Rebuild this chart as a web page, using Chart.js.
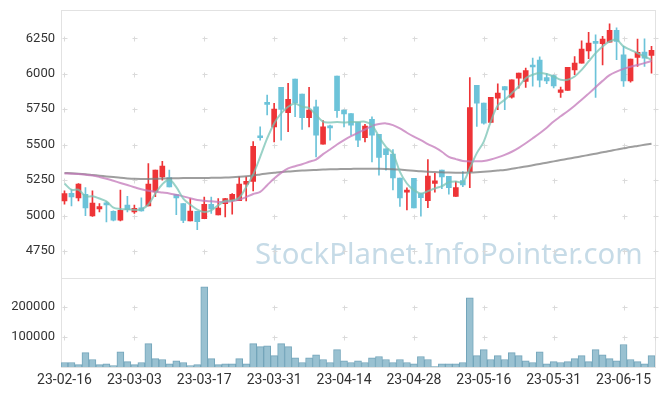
<!DOCTYPE html>
<html>
<head>
<meta charset="utf-8">
<script src="https://cdn.jsdelivr.net/npm/chart.js@4"></script>
<style>
  html, body { margin: 0; padding: 0; background: #fff; }
  canvas { display: block; }
</style>
</head>
<body>
<canvas id="chart" width="665" height="396"></canvas>
<script>
const dates = [
  "23-02-16", "23-02-17", "23-02-20", "23-02-21", "23-02-22", "23-02-23", "23-02-24", "23-02-27", "23-02-28", "23-03-02",
  "23-03-03", "23-03-06", "23-03-07", "23-03-08", "23-03-09", "23-03-10", "23-03-13", "23-03-14", "23-03-15", "23-03-16",
  "23-03-17", "23-03-20", "23-03-21", "23-03-22", "23-03-23", "23-03-24", "23-03-27", "23-03-28", "23-03-29", "23-03-30",
  "23-03-31", "23-04-03", "23-04-04", "23-04-05", "23-04-06", "23-04-07", "23-04-10", "23-04-11", "23-04-12", "23-04-13",
  "23-04-14", "23-04-17", "23-04-18", "23-04-19", "23-04-20", "23-04-21", "23-04-24", "23-04-25", "23-04-26", "23-04-27",
  "23-04-28", "23-05-02", "23-05-03", "23-05-04", "23-05-08", "23-05-09", "23-05-10", "23-05-11", "23-05-12", "23-05-15",
  "23-05-16", "23-05-17", "23-05-18", "23-05-19", "23-05-22", "23-05-23", "23-05-24", "23-05-25", "23-05-26", "23-05-30",
  "23-05-31", "23-06-01", "23-06-02", "23-06-05", "23-06-07", "23-06-08", "23-06-09", "23-06-12", "23-06-13", "23-06-14",
  "23-06-15", "23-06-16", "23-06-19", "23-06-20", "23-06-21"
];

const opens = [
  5103, 5157, 5124, 5150, 4997, 5047, 5089, 5030, 4967, 5073,
  5026, 5054, 5068, 5167, 5272, 5268, 5148, 5084, 4962, 5029,
  4978, 5079, 5004, 5084, 5106, 5105, 5221, 5240, 5556, 5790,
  5626, 5904, 5725, 5963, 5857, 5690, 5767, 5504, 5624, 5984,
  5744, 5720, 5657, 5549, 5678, 5572, 5470, 5433, 5264, 5165,
  5263, 5155, 5105, 5226, 5320, 5277, 5134, 5247, 5310, 5918,
  5793, 5656, 5828, 5910, 5835, 5969, 5946, 6056, 6096, 5974,
  5988, 5868, 5882, 6028, 6075, 6162, 6221, 6212, 6223, 6306,
  6134, 5950, 6115, 6153, 6129
];
const highs = [
  5174, 5183, 5225, 5197, 5174, 5084, 5096, 5033, 5179, 5136,
  5073, 5124, 5367, 5320, 5383, 5320, 5150, 5084, 5120, 5030,
  5131, 5130, 5120, 5122, 5155, 5273, 5273, 5522, 5626, 5850,
  5791, 5904, 5932, 5963, 5857, 5904, 5815, 5669, 5638, 5984,
  5744, 5720, 5657, 5643, 5697, 5572, 5470, 5466, 5264, 5195,
  5263, 5155, 5395, 5297, 5320, 5277, 5240, 5310, 5974, 5918,
  5793, 5833, 5929, 5910, 5958, 6005, 6040, 6110, 6120, 6002,
  5990, 5906, 6045, 6122, 6233, 6292, 6275, 6264, 6353, 6325,
  6193, 6103, 6245, 6247, 6193
];
const lows = [
  5080, 5068, 5103, 4999, 4994, 5026, 4955, 4962, 4962, 5026,
  5014, 5030, 5068, 5133, 5249, 5202, 5006, 4950, 4962, 4900,
  4978, 5014, 5004, 4990, 5009, 5105, 5103, 5174, 5532, 5709,
  5520, 5532, 5591, 5697, 5607, 5626, 5414, 5504, 5532, 5692,
  5626, 5567, 5485, 5520, 5379, 5285, 5320, 5180, 5065, 5040,
  5053, 4995, 5055, 5165, 5190, 5150, 5134, 5204, 5197, 5628,
  5645, 5656, 5746, 5746, 5828, 5899, 5903, 5912, 5908, 5931,
  5900, 5833, 5882, 5993, 6075, 6106, 5833, 6063, 6223, 6099,
  5910, 5941, 6052, 6052, 6005
];
const closes = [
  5155, 5131, 5221, 5054, 5087, 5063, 5075, 4967, 5037, 5042,
  5051, 5033, 5221, 5320, 5348, 5202, 5124, 4965, 5031, 4957,
  5079, 5046, 5052, 5120, 5150, 5221, 5242, 5489, 5549, 5784,
  5751, 5749, 5819, 5796, 5690, 5744, 5567, 5626, 5618, 5739,
  5716, 5638, 5532, 5631, 5567, 5410, 5430, 5265, 5125, 5179,
  5053, 5126, 5278, 5244, 5273, 5197, 5197, 5216, 5762, 5793,
  5651, 5833, 5863, 5887, 5958, 6005, 6023, 6048, 5955, 5950,
  5915, 5887, 6045, 6075, 6174, 6216, 6214, 6245, 6306, 6228,
  5950, 6103, 6151, 6111, 6165
];
const volumes = [
  15000, 15000, 8000, 48000, 25000, 8000, 11000, 5000, 51000, 18000,
  8000, 15000, 78000, 28000, 25000, 11000, 21000, 15000, 5000, 8000,
  268000, 28000, 8000, 11000, 11000, 28000, 11000, 78000, 68000, 71000,
  38000, 78000, 68000, 31000, 15000, 31000, 41000, 25000, 15000, 58000,
  21000, 15000, 21000, 15000, 31000, 35000, 25000, 15000, 25000, 15000,
  11000, 35000, 25000, 1500, 11000, 11000, 11000, 15000, 231000, 38000,
  58000, 25000, 38000, 25000, 48000, 38000, 21000, 15000, 51000, 11000,
  18000, 15000, 18000, 28000, 38000, 18000, 58000, 41000, 28000, 21000,
  75000, 25000, 18000, 11000, 38000
];
const maShort = [
  5226, 5182, 5182, 5136, 5136, 5120, 5100, 5056, 5046, 5044,
  5040, 5044, 5078, 5155, 5221, 5252, 5200, 5120, 5076, 5042,
  5025, 5037, 5072, 5103, 5106, 5125, 5202, 5290, 5414, 5544,
  5650, 5720, 5767, 5790, 5767, 5758, 5709, 5662, 5657, 5659,
  5657, 5660, 5660, 5662, 5638, 5556, 5485, 5438, 5308, 5226,
  5179, 5155, 5172, 5191, 5207, 5235, 5240, 5235, 5334, 5440,
  5522, 5663, 5776, 5816, 5863, 5910, 5969, 5993, 6005, 5998,
  5981, 5958, 5958, 5981, 6028, 6087, 6146, 6193, 6228, 6240,
  6193, 6169, 6146, 6122, 6099
];
const maMid = [
  5296, 5295, 5293, 5288, 5282, 5272, 5260, 5245, 5230, 5215,
  5200, 5185, 5175, 5168, 5162, 5156, 5146, 5135, 5122, 5110,
  5104, 5100, 5096, 5096, 5100, 5112, 5130, 5152, 5167, 5214,
  5261, 5301, 5332, 5348, 5362, 5379, 5395, 5433, 5466, 5501,
  5532, 5560, 5584, 5607, 5631, 5645, 5650, 5638, 5614, 5584,
  5556, 5532, 5504, 5480, 5450, 5414, 5398, 5385, 5382, 5383,
  5385, 5395, 5410, 5428, 5450, 5478, 5510, 5545, 5581, 5620,
  5663, 5700, 5736, 5775, 5816, 5860, 5905, 5950, 5990, 6015,
  6035, 6050, 6062, 6075, 6090
];
const maLong = [
  5300, 5298, 5295, 5291, 5286, 5281, 5276, 5271, 5266, 5262,
  5259, 5258, 5258, 5259, 5261, 5262, 5263, 5264, 5264, 5265,
  5265, 5266, 5267, 5268, 5270, 5273, 5277, 5283, 5290, 5297,
  5302, 5307, 5311, 5314, 5317, 5320, 5322, 5324, 5326, 5327,
  5328, 5329, 5330, 5330, 5330, 5330, 5329, 5327, 5324, 5320,
  5316, 5312, 5309, 5307, 5305, 5303, 5302, 5302, 5303, 5305,
  5308, 5312, 5317, 5322, 5330, 5338, 5346, 5355, 5364, 5373,
  5382, 5391, 5400, 5409, 5418, 5427, 5436, 5446, 5455, 5465,
  5474, 5483, 5491, 5499, 5507
];
const priceTicks = [4750, 5000, 5250, 5500, 5750, 6000, 6250];
const volumeTicks = [100000, 200000];

const UP = "#ee3437";
const DOWN = "#6cc3d9";
const isUp = (i) => closes[i] >= opens[i];

const tickFont = { family: "Roboto", size: 13 };

const panePlugin = {
  id: "panes",
  beforeDatasetsDraw(chart) {
    const { ctx, chartArea, scales } = chart;
    ctx.save();

    // watermark
    ctx.fillStyle = "#c6dbe7";
    ctx.font = "28px 'Noto Sans'";
    const w = ctx.measureText("StockPlanet.InfoPointer.com").width;
    const size = 28 * 388 / w;
    ctx.font = size + "px 'Noto Sans'";
    ctx.textBaseline = "alphabetic";
    ctx.fillText("StockPlanet.InfoPointer.com", 255, 264);

    // pane borders
    ctx.strokeStyle = "#e2e2e2";
    ctx.lineWidth = 1;
    for (const id of ["price", "vol"]) {
      const s = scales[id];
      ctx.strokeRect(Math.round(chartArea.left) + 0.5, Math.round(s.top) + 0.5,
        Math.round(chartArea.right - chartArea.left), Math.round(s.bottom - s.top));
    }

    // small crosses where the grid would meet
    ctx.strokeStyle = "#dadada";
    const xs = scales.x.ticks.map((t) => scales.x.getPixelForValue(t.value));
    xs.push(chartArea.right);
    for (const id of ["price", "vol"]) {
      const s = scales[id];
      for (const t of s.ticks) {
        const y = Math.round(s.getPixelForValue(t.value)) + 0.5;
        for (const xv of xs) {
          const x = Math.round(xv) + 0.5;
          ctx.beginPath();
          ctx.moveTo(x - 2, y); ctx.lineTo(x + 3, y);
          ctx.moveTo(x, y - 2); ctx.lineTo(x, y + 3);
          ctx.stroke();
        }
      }
    }
    ctx.restore();
  }
};

function fitY(s) {
  s.width = 61;
  s.paddingTop = 0;
  s.paddingBottom = 0;
}

new Chart(document.getElementById("chart"), {
  data: {
    labels: dates,
    datasets: [
      {
        type: "line", yAxisID: "price", data: maShort, order: 0,
        borderColor: "rgba(120,195,180,0.75)", borderWidth: 2, pointRadius: 0, tension: 0.35
      },
      {
        type: "line", yAxisID: "price", data: maMid, order: 0,
        borderColor: "rgba(195,120,185,0.75)", borderWidth: 2, pointRadius: 0, tension: 0.35
      },
      {
        type: "line", yAxisID: "price", data: maLong, order: 0,
        borderColor: "rgba(125,125,125,0.75)", borderWidth: 2, pointRadius: 0, tension: 0.35
      },
      {
        type: "bar", yAxisID: "price", order: 1, grouped: false,
        data: opens.map((o, i) => [o, closes[i]]),
        backgroundColor: (c) => isUp(c.dataIndex) ? UP : DOWN,
        borderWidth: 0, barThickness: 5, minBarLength: 2
      },
      {
        type: "bar", yAxisID: "price", order: 2, grouped: false,
        data: lows.map((l, i) => [l, highs[i]]),
        backgroundColor: (c) => isUp(c.dataIndex) ? UP : DOWN,
        barThickness: 1
      },
      {
        type: "bar", yAxisID: "vol", order: 3, grouped: false,
        data: volumes,
        backgroundColor: "#99c1d1", borderColor: "#73a5ba", borderWidth: 1,
        barPercentage: 1, categoryPercentage: 1
      }
    ]
  },
  options: {
    responsive: false,
    animation: false,
    layout: { padding: { top: 10, right: 10, left: 0, bottom: 0 } },
    plugins: { legend: { display: false }, tooltip: { enabled: false } },
    scales: {
      x: {
        type: "category", offset: true,
        grid: { display: false, drawTicks: false }, border: { display: false },
        ticks: { autoSkip: false, maxRotation: 0, color: "#333", font: { family: "Roboto", size: 14 }, padding: 5 },
        afterBuildTicks: (s) => { s.ticks = s.ticks.filter((t) => t.value % 10 === 0); },
        afterFit: (s) => { s.height = 29; s.paddingLeft = 0; s.paddingRight = 0; }
      },
      vol: {
        type: "linear", position: "left", stack: "panes", stackWeight: 1,
        min: 0, max: 298000,
        grid: { display: false, drawTicks: false }, border: { display: false },
        ticks: { color: "#333", font: tickFont, padding: 6, callback: (v) => String(v) },
        afterBuildTicks: (s) => { s.ticks = volumeTicks.map((v) => ({ value: v })); },
        afterFit: fitY
      },
      price: {
        type: "linear", position: "left", stack: "panes", stackWeight: 3,
        min: 4561, max: 6450,
        grid: { display: false, drawTicks: false }, border: { display: false },
        ticks: { color: "#333", font: tickFont, padding: 6, callback: (v) => String(v) },
        afterBuildTicks: (s) => { s.ticks = priceTicks.map((v) => ({ value: v })); },
        afterFit: fitY
      }
    }
  },
  plugins: [panePlugin]
});
</script>
</body>
</html>
